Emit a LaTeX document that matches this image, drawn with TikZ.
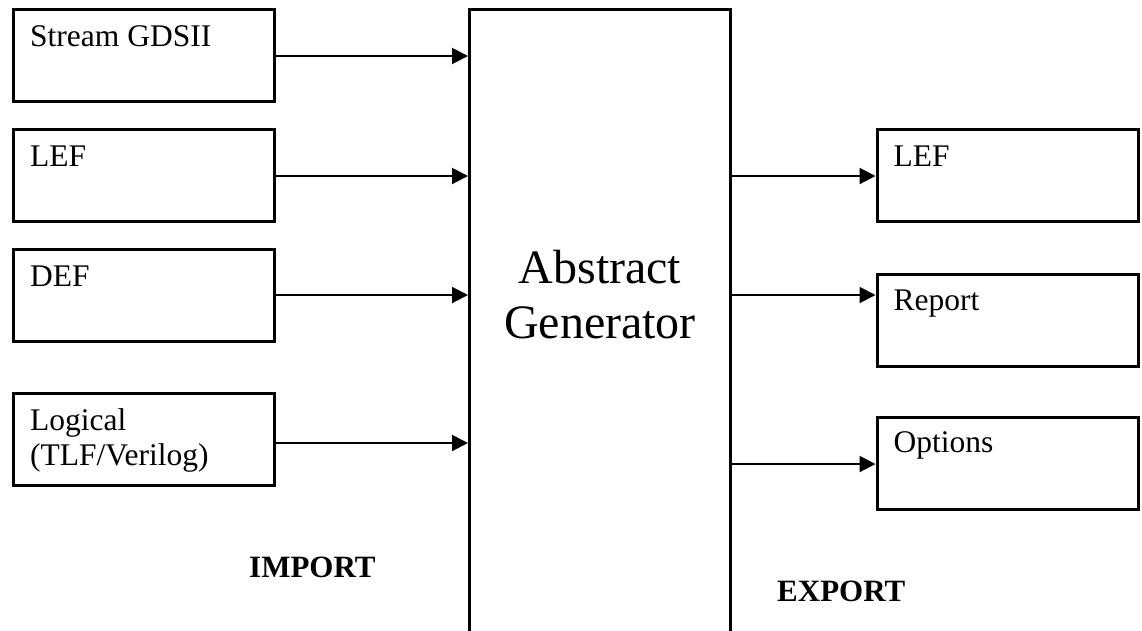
\documentclass[tikz,border=0pt]{standalone}
\usepackage{fontspec}
\setmainfont{Liberation Serif}
\usetikzlibrary{arrows.meta}

\begin{document}
\begin{tikzpicture}[x=1pt,y=1pt,
  blk/.style={draw,line width=3pt,minimum width=261pt,minimum height=92pt,inner sep=0pt},
  lbl/.style={anchor=base west,inner sep=0pt,font=\fontsize{31.5}{35}\selectfont,align=left},
  tag/.style={anchor=base west,inner sep=0pt,font=\fontsize{31}{35}\selectfont\bfseries},
  feed/.style={line width=2pt,-{Triangle[length=16pt,width=16pt]}}]

  \clip (0,0) rectangle (1142,-630);

  % central block, open towards the bottom edge
  \node[blk,minimum height=700pt] (main) at (600,-359.5) {};
  \node[inner sep=0pt,align=center,font=\fontsize{48}{55}\selectfont,anchor=base]
    (title) at (600,-338) {Abstract\\Generator};

  % inputs
  \node[blk] (gds) at (144,-55.5) {};
  \node[blk] (lefin) at (144,-175.5) {};
  \node[blk] (def) at (144,-295.5) {};
  \node[blk] (logic) at (144,-439.5) {};
  \node[lbl] (gdst) at ([shift={(18,-38.5)}]gds.north west) {Stream GDSII};
  \node[lbl] (lefint) at ([shift={(18,-38.5)}]lefin.north west) {LEF};
  \node[lbl] (deft) at ([shift={(18,-38.5)}]def.north west) {DEF};
  \node[lbl] (logict) at ([shift={(18,-73.5)}]logic.north west) {Logical\\(TLF/Verilog)};

  % outputs
  \node[blk] (lefout) at (1007.5,-175.5) {};
  \node[blk] (report) at (1007.5,-320) {};
  \node[blk] (opts) at (1007.5,-463.5) {};
  \node[lbl] (lefoutt) at ([shift={(18,-38.5)}]lefout.north west) {LEF};
  \node[lbl] (reportt) at ([shift={(18,-37.5)}]report.north west) {Report};
  \node[lbl] (optst) at ([shift={(18,-36.5)}]opts.north west) {Options};

  \node[tag] (import) at (249,-577) {IMPORT};
  \node[tag] (export) at (777,-601) {EXPORT};

  % input arrows
  \coordinate (y1) at (0,-56);
  \coordinate (y2) at (0,-176);
  \coordinate (y3) at (0,-295);
  \coordinate (y4) at (0,-443);
  \draw[feed] (gds.east |- y1) -- (main.west |- y1);
  \draw[feed] (lefin.east |- y2) -- (main.west |- y2);
  \draw[feed] (def.east |- y3) -- (main.west |- y3);
  \draw[feed] (logic.east |- y4) -- (main.west |- y4);

  % output arrows
  \coordinate (z1) at (0,-176);
  \coordinate (z2) at (0,-295);
  \coordinate (z3) at (0,-464);
  \draw[feed] (main.east |- z1) -- (lefout.west |- z1);
  \draw[feed] (main.east |- z2) -- (report.west |- z2);
  \draw[feed] (main.east |- z3) -- (opts.west |- z3);
\end{tikzpicture}
\end{document}
